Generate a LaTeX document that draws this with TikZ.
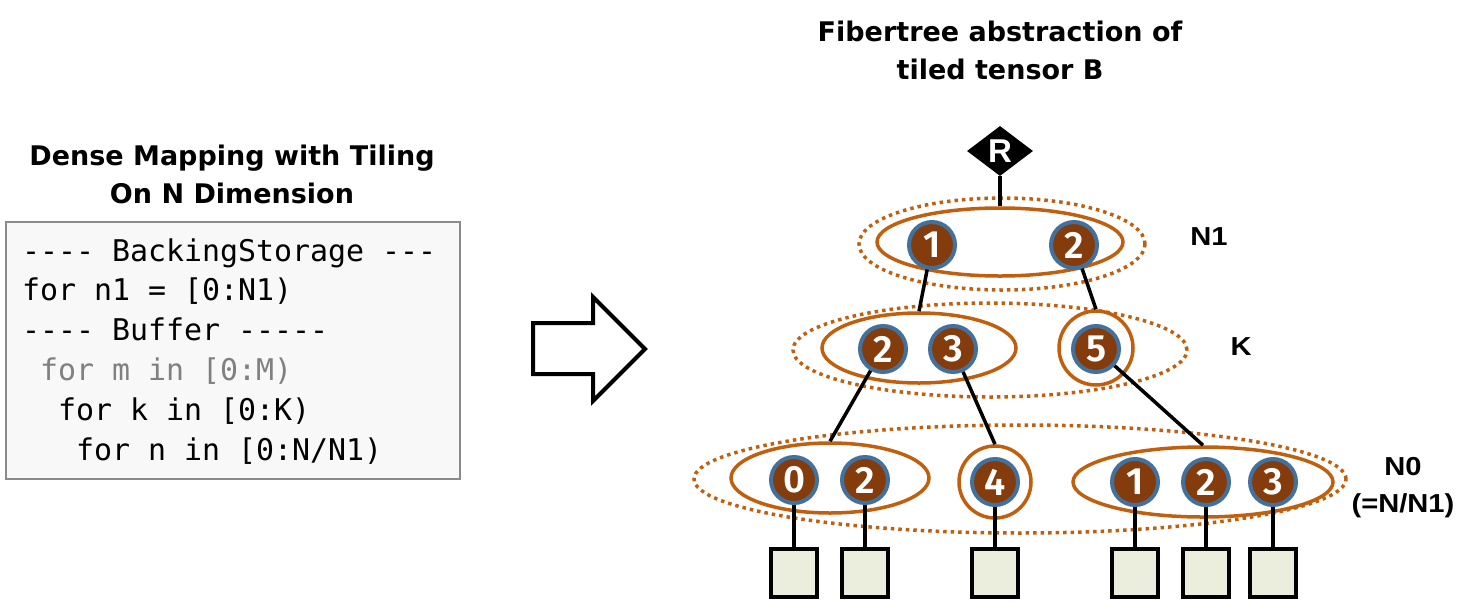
\documentclass[tikz,border=0pt]{standalone}
\usepackage{fontspec}
\setmainfont{DejaVu Sans}
\newfontfamily\codefont{DejaVu Sans Mono}
\newfontfamily\lblfont[FakeStretch=1.12]{Liberation Sans}
\newfontfamily\rootfont{Liberation Sans}
\newfontfamily\digitfont{Fira Sans SemiBold}
\usetikzlibrary{shapes.geometric}
\definecolor{brownfill}{HTML}{843C0C}
\definecolor{ringblue}{HTML}{41719C}
\definecolor{ellbrown}{HTML}{C0600F}
\definecolor{leaffill}{HTML}{EBEEDD}
\definecolor{codebg}{HTML}{F8F8F8}
\definecolor{codeborder}{HTML}{8A8A8A}
\definecolor{codegray}{HTML}{808080}
\tikzset{
  titletext/.style={font=\bfseries\fontsize{27}{38}\selectfont, align=center, inner sep=0},
  lvltext/.style={font=\lblfont\bfseries\fontsize{26}{37}\selectfont, align=center, inner sep=0},
  codeline/.style={font=\codefont\fontsize{29.9}{40}\selectfont, anchor=base west, inner sep=0},
  val/.style={circle, draw=ringblue, fill=brownfill, line width=4pt, minimum size=46pt, inner sep=0,
    text=white, font=\digitfont\fontsize{38}{38}\selectfont},
  fiber/.style={ellipse, draw=ellbrown, line width=3.5pt, inner sep=0},
  rank/.style={ellipse, draw=ellbrown, line width=3.5pt, dash pattern=on 3.5pt off 4pt, inner sep=0},
  leaf/.style={rectangle, draw=black, fill=leaffill, line width=3.5pt, minimum width=46pt, minimum height=48pt, inner sep=0},
  edge/.style={draw=black, line width=3.5pt},
}
\begin{document}
\begin{tikzpicture}[x=1pt,y=-1pt]
\useasboundingbox (0,0) rectangle (1475,603);

% left title and code
\node[titletext] (ltitle) at (232,174) {Dense Mapping with Tiling\\On N Dimension};
\node[draw=codeborder, fill=codebg, line width=2pt, minimum width=454pt, minimum height=257pt, inner sep=0] (codebox) at (233,350.5) {};
\node[codeline] (c1) at (22,261) {---- BackingStorage ---};
\node[codeline] (c2) at (22,300) {for n1 = [0:N1)};
\node[codeline] (c3) at (22,340) {---- Buffer -----};
\node[codeline, text=codegray] (c4) at (40,380) {for m in [0:M)};
\node[codeline] (c5) at (58,420) {for k in [0:K)};
\node[codeline] (c6) at (76,460) {for n in [0:N/N1)};

% big arrow
\draw[line width=4pt, line join=miter] (533,323) -- (593,323) -- (593,297) -- (645,349) -- (593,401) -- (593,374) -- (533,374) -- cycle;

% right title
\node[titletext] (rtitle) at (1000,50) {Fibertree abstraction of\\tiled tensor B};

% root
\node[diamond, fill=black, minimum width=66pt, minimum height=50pt, inner sep=0, text=white,
  font=\rootfont\bfseries\fontsize{33}{33}\selectfont] (root) at (1000,151) {R};

% N1 level
\node[rank, minimum width=286pt, minimum height=92pt] (rN1) at (1002,244) {};
\node[fiber, minimum width=246pt, minimum height=68pt] (fN1) at (1000,242) {};
\node[val] (a1) at (932,245) {1};
\node[val] (a2) at (1074,245) {2};
\node[lvltext] (lN1) at (1209,237) {N1};

% K level
\node[rank, minimum width=394pt, minimum height=94pt] (rK) at (990,350) {};
\node[fiber, minimum width=194pt, minimum height=70pt] (fK1) at (919,348) {};
\node[fiber, circle, minimum size=74pt] (fK2) at (1096,348) {};
\node[val] (b2) at (883,349) {2};
\node[val] (b3) at (953,349) {3};
\node[val] (b5) at (1096,349) {5};
\node[lvltext] (lK) at (1241,347) {K};

% N0 level
\node[rank, minimum width=652pt, minimum height=108pt] (rN0) at (1020,479) {};
\node[fiber, minimum width=198pt, minimum height=70pt] (fN01) at (830,478) {};
\node[fiber, circle, minimum size=72pt] (fN02) at (995,482) {};
\node[fiber, minimum width=260pt, minimum height=70pt] (fN03) at (1203,482) {};
\node[val] (d0) at (794,480) {0};
\node[val] (d2) at (865,480) {2};
\node[val] (d4) at (995,482) {4};
\node[val] (d1) at (1135,482) {1};
\node[val] (d2b) at (1206,482) {2};
\node[val] (d3) at (1273,482) {3};
\node[lvltext] (lN0) at (1403,488) {N0\\(=N/N1)};

% leaves
\node[leaf] (p0) at (794,573) {};
\node[leaf] (p1) at (865,573) {};
\node[leaf] (p2) at (995,573) {};
\node[leaf] (p3) at (1135,573) {};
\node[leaf] (p4) at (1206,573) {};
\node[leaf] (p5) at (1273,573) {};

% edges
\draw[edge] (root.south) -- (fN1.north);
\draw[edge] (a1) -- (fK1.north);
\draw[edge] (a2) -- (fK2.north);
\draw[edge] (b2) -- (fN01.north);
\draw[edge] (b3) -- (fN02.north);
\draw[edge] (b5) -- (fN03.north);
\draw[edge] (d0.south) -- (p0.north);
\draw[edge] (d2.south) -- (p1.north);
\draw[edge] (d4.south) -- (p2.north);
\draw[edge] (d1.south) -- (p3.north);
\draw[edge] (d2b.south) -- (p4.north);
\draw[edge] (d3.south) -- (p5.north);
\end{tikzpicture}
\end{document}
